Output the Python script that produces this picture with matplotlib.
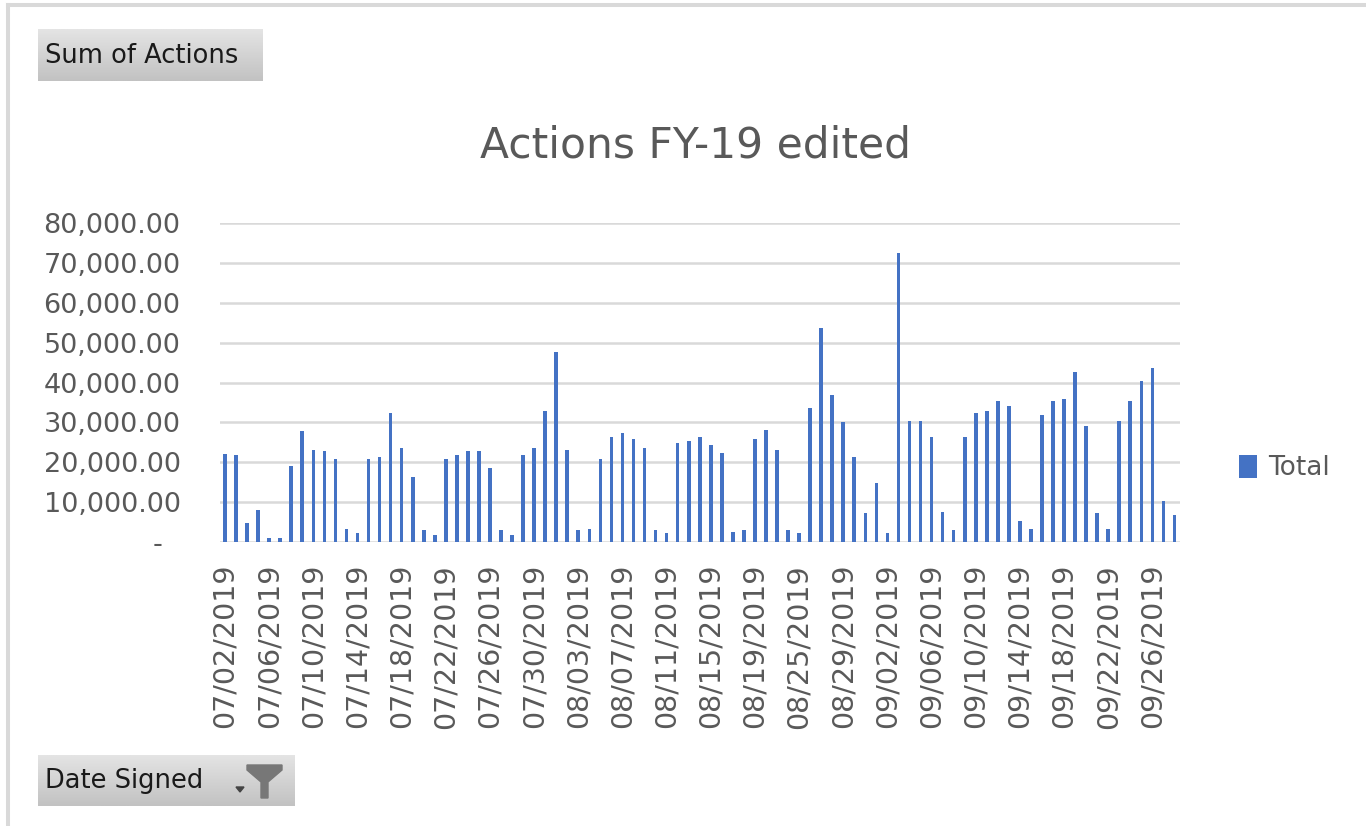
import numpy as np
import pandas as pd
import matplotlib
matplotlib.use("Agg")
import matplotlib.pyplot as plt
from matplotlib.lines import Line2D
from matplotlib.patches import Polygon

# category dates (pivot rows present in the data), 08/22 and 08/23 missing
dates = pd.date_range("2019-07-02", "2019-09-28")
dates = dates.drop(pd.to_datetime(["2019-08-22", "2019-08-23"]))
date_labels = [d.strftime("%m/%d/%Y") for d in dates]

# Sum of Actions per date
totals = [22000, 21700, 4750, 7900, 1000, 1000, 19000, 27750, 23100, 22700,
          20800, 3300, 2100, 20800, 21250, 32300, 23600, 16250, 2900, 1700,
          20800, 21700, 22700, 22700, 18600, 2900, 1700, 21700, 23600, 32750,
          47750, 23100, 2900, 3300, 20800, 26250, 27250, 25800, 23600, 2900,
          2100, 24900, 25400, 26250, 24400, 22200, 2500, 2900, 25800, 28100,
          23100, 2900, 2100, 33600, 53750, 36800, 30000, 21250, 7100, 14800,
          2100, 72500, 30400, 30400, 26250, 7500, 2900, 26250, 32250, 32750,
          35400, 34100, 5250, 3300, 31750, 35400, 35900, 42750, 29000, 7100,
          3300, 30400, 35400, 40400, 43750, 10250, 6700]

y_ticks = [0, 10000, 20000, 30000, 40000, 50000, 60000, 70000, 80000]

W, H = 1366, 826
BLUE = "#4472C4"
GRAY_TXT = "#595959"
GRID = "#d9d9d9"


def fx(px):
    return px / W


def fy(py):
    return 1 - py / H


fig = plt.figure(figsize=(W / 100, H / 100), dpi=100)

# outer frame of the pivot chart (top and left edges only are visible)
fig.add_artist(Line2D([fx(8), 1], [fy(5), fy(5)], color=GRID, lw=2.9))
fig.add_artist(Line2D([fx(8), fx(8)], [fy(5), 0], color=GRID, lw=2.9))

ax = fig.add_axes([fx(219.5), fy(541.7), fx(1180 - 219.5), (541.7 - 223.3) / H])
x = np.arange(len(totals))
ax.bar(x, totals, width=0.33, color=BLUE, label="Total", zorder=3)

ax.set_xlim(-0.5, len(totals) - 0.5)
ax.set_ylim(0, 80000)
ax.set_yticks(y_ticks)
ax.set_yticklabels(["-  "] + [f"{v:,.2f}" for v in y_ticks[1:]])
ax.set_xticks(x[::4])
ax.set_xticklabels(date_labels[::4], rotation=90)
ax.tick_params(axis="y", length=0, pad=28, labelsize=19.5, labelcolor=GRAY_TXT)
ax.tick_params(axis="x", length=0, pad=16, labelsize=20.5, labelcolor=GRAY_TXT)
ax.grid(axis="y", color=GRID, lw=1.8, zorder=0)
ax.set_axisbelow(True)
for s in ax.spines.values():
    s.set_visible(False)

fig.text(fx(696), fy(146), "Actions FY-19 edited", ha="center", va="center",
         fontsize=30.5, color=GRAY_TXT)

fig.legend(loc="center left", bbox_to_anchor=(fx(1215), fy(468)), frameon=False,
           fontsize=19, handlelength=0.7, handleheight=0.95, handletextpad=0.4,
           labelcolor=GRAY_TXT)

# pivot field buttons
grad = np.linspace(0, 1, 50).reshape(-1, 1)


def field_button(x0, y0, x1, y1, label, funnel=False):
    b = fig.add_axes([fx(x0), fy(y1), fx(x1 - x0), (y1 - y0) / H])
    b.imshow(grad, aspect="auto", cmap=matplotlib.colors.LinearSegmentedColormap.from_list(
        "btn", ["#e4e4e4", "#c2c2c2"]), extent=[x0, x1, y1, y0])
    b.set_xlim(x0, x1)
    b.set_ylim(y1, y0)
    b.axis("off")
    b.text(x0 + 7, (y0 + y1) / 2 + 1, label, ha="left", va="center",
           fontsize=18.5, color="#1a1a1a")
    if funnel:
        b.add_patch(Polygon([(247, 765), (282, 765), (282, 770), (268, 782),
                             (268, 798), (261, 798), (261, 782), (247, 770)],
                            closed=True, color="#777777"))
        b.add_patch(Polygon([(236, 787), (244, 787), (240, 792)], closed=True,
                            color="#444444"))


field_button(38, 29, 263, 81, "Sum of Actions")
field_button(38, 755, 295, 806, "Date Signed", funnel=True)

fig.savefig("out.png", dpi=100)
